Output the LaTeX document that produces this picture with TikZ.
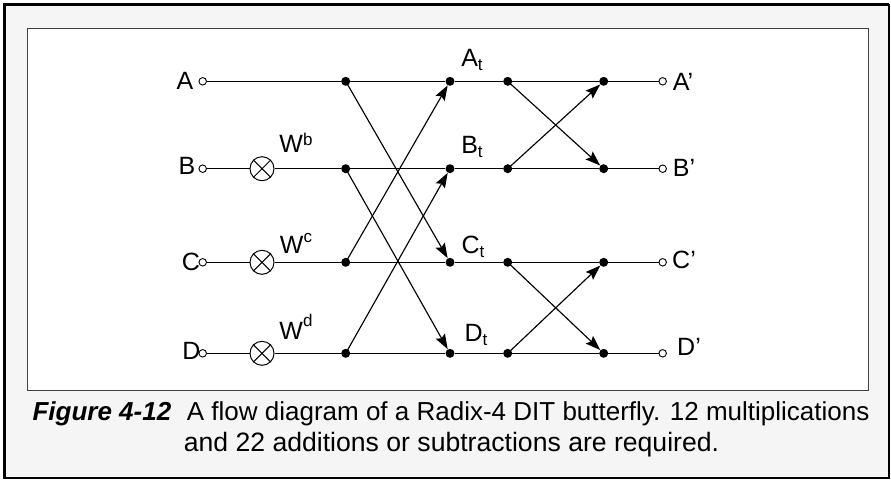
\documentclass[tikz,border=0pt]{standalone}
\usepackage{fontspec}
\setmainfont{Liberation Sans}
\usetikzlibrary{arrows.meta}
\definecolor{panel}{HTML}{F5F5F5}
\tikzset{
  x=1pt,y=-1pt,
  wire/.style={draw=black,line width=1.15pt},
  arrowwire/.style={wire,-{Stealth[length=15pt,width=10.5pt,inset=2.5pt]}},
  solid dot/.style={circle,fill=black,inner sep=0pt,minimum size=9pt},
  open dot/.style={circle,draw=black,fill=white,line width=0.9pt,inner sep=0pt,minimum size=7.5pt},
  mult/.style={circle,draw=black,fill=white,line width=1pt,inner sep=0pt,minimum size=24pt},
  lab/.style={font=\fontsize{25}{28}\selectfont,inner sep=0pt,anchor=base},
  captext/.style={font=\fontsize{26}{30}\selectfont,inner sep=0pt,anchor=base}
}
\newcommand{\crossmark}[1]{\draw[line width=1pt] (#1.45)--(#1.225) (#1.135)--(#1.315);}
\newcommand{\supr}[2]{\raisebox{#1}{\fontsize{17}{19}\selectfont #2}}
\begin{document}
\begin{tikzpicture}
\useasboundingbox (0,0) rectangle (891,480);
\fill[white] (0,0) rectangle (891,480);
\fill[fill=panel] (4,4) rectangle (889,478);
\draw[line width=1.5pt] (889,3.5)--(889,478)--(3,478);
\draw[line width=3pt] (4,478)--(4,4)--(889,4);
\draw[fill=white,draw=black!75,line width=1pt] (27.5,28) rectangle (868.5,390);
% nodes
\foreach \n/\y in {A/81.3,B/168.7,C/262.3,D/353.3}{
  \node[open dot] (i\n) at (202.7,\y) {};
  \node[solid dot] (p\n) at (345.7,\y) {};
  \node[solid dot] (q\n) at (450,\y) {};
  \node[solid dot] (r\n) at (507.7,\y) {};
  \node[solid dot] (s\n) at (603.7,\y) {};
  \node[open dot] (o\n) at (662.7,\y) {};
}
\node[mult] (mB) at (262,168.7) {};
\node[mult] (mC) at (262,262.3) {};
\node[mult] (mD) at (262,353.3) {};
\crossmark{mB}\crossmark{mC}\crossmark{mD}
% horizontal wires
\draw[wire] (iA)--(pA)--(qA)--(rA)--(sA)--(oA);
\draw[wire] (iB)--(mB)--(pB)--(qB)--(rB)--(sB)--(oB);
\draw[wire] (iC)--(mC)--(pC)--(qC)--(rC)--(sC)--(oC);
\draw[wire] (iD)--(mD)--(pD)--(qD)--(rD)--(sD)--(oD);
% butterflies
\draw[arrowwire] (pA.center)--(qC);
\draw[arrowwire] (pB.center)--(qD);
\draw[arrowwire] (pC.center)--(qA);
\draw[arrowwire] (pD.center)--(qB);
\draw[arrowwire] (rA.center)--(sB);
\draw[arrowwire] (rB.center)--(sA);
\draw[arrowwire] (rC.center)--(sD);
\draw[arrowwire] (rD.center)--(sC);
% labels
\node[lab] (lA) at (185,89) {A};
\node[lab] (lB) at (187,174.5) {B};
\node[lab] (lC) at (191,270) {C};
\node[lab] (lD) at (191.5,359.5) {D};
\node[lab] (lWb) at (296,152) {W\supr{7pt}{b}};
\node[lab] (lWc) at (296,253) {W\supr{11pt}{c}};
\node[lab] (lWd) at (296,339) {W\supr{13pt}{d}};
\node[lab] (lAt) at (472,66.5) {A\supr{-4pt}{t}};
\node[lab] (lBt) at (472,153) {B\supr{-4pt}{t}};
\node[lab] (lCt) at (473,253) {C\supr{-4pt}{t}};
\node[lab] (lDt) at (476,341) {D\supr{-4pt}{t}};
\node[lab] (lAp) at (683,90.5) {A’};
\node[lab] (lBp) at (684,176.5) {B’};
\node[lab] (lCp) at (684,268) {C’};
\node[lab] (lDp) at (689,355) {D’};
% caption
\node[captext] (c1) at (451,420) {\textbf{\textit{Figure 4-12}}\hspace{0.6em}A flow diagram of a Radix-4 DIT butterfly. 12 multiplications};
\node[captext,font=\fontsize{26.6}{30}\selectfont] (c2) at (451.5,451.5) {and 22 additions or subtractions are required.};
\end{tikzpicture}
\end{document}
